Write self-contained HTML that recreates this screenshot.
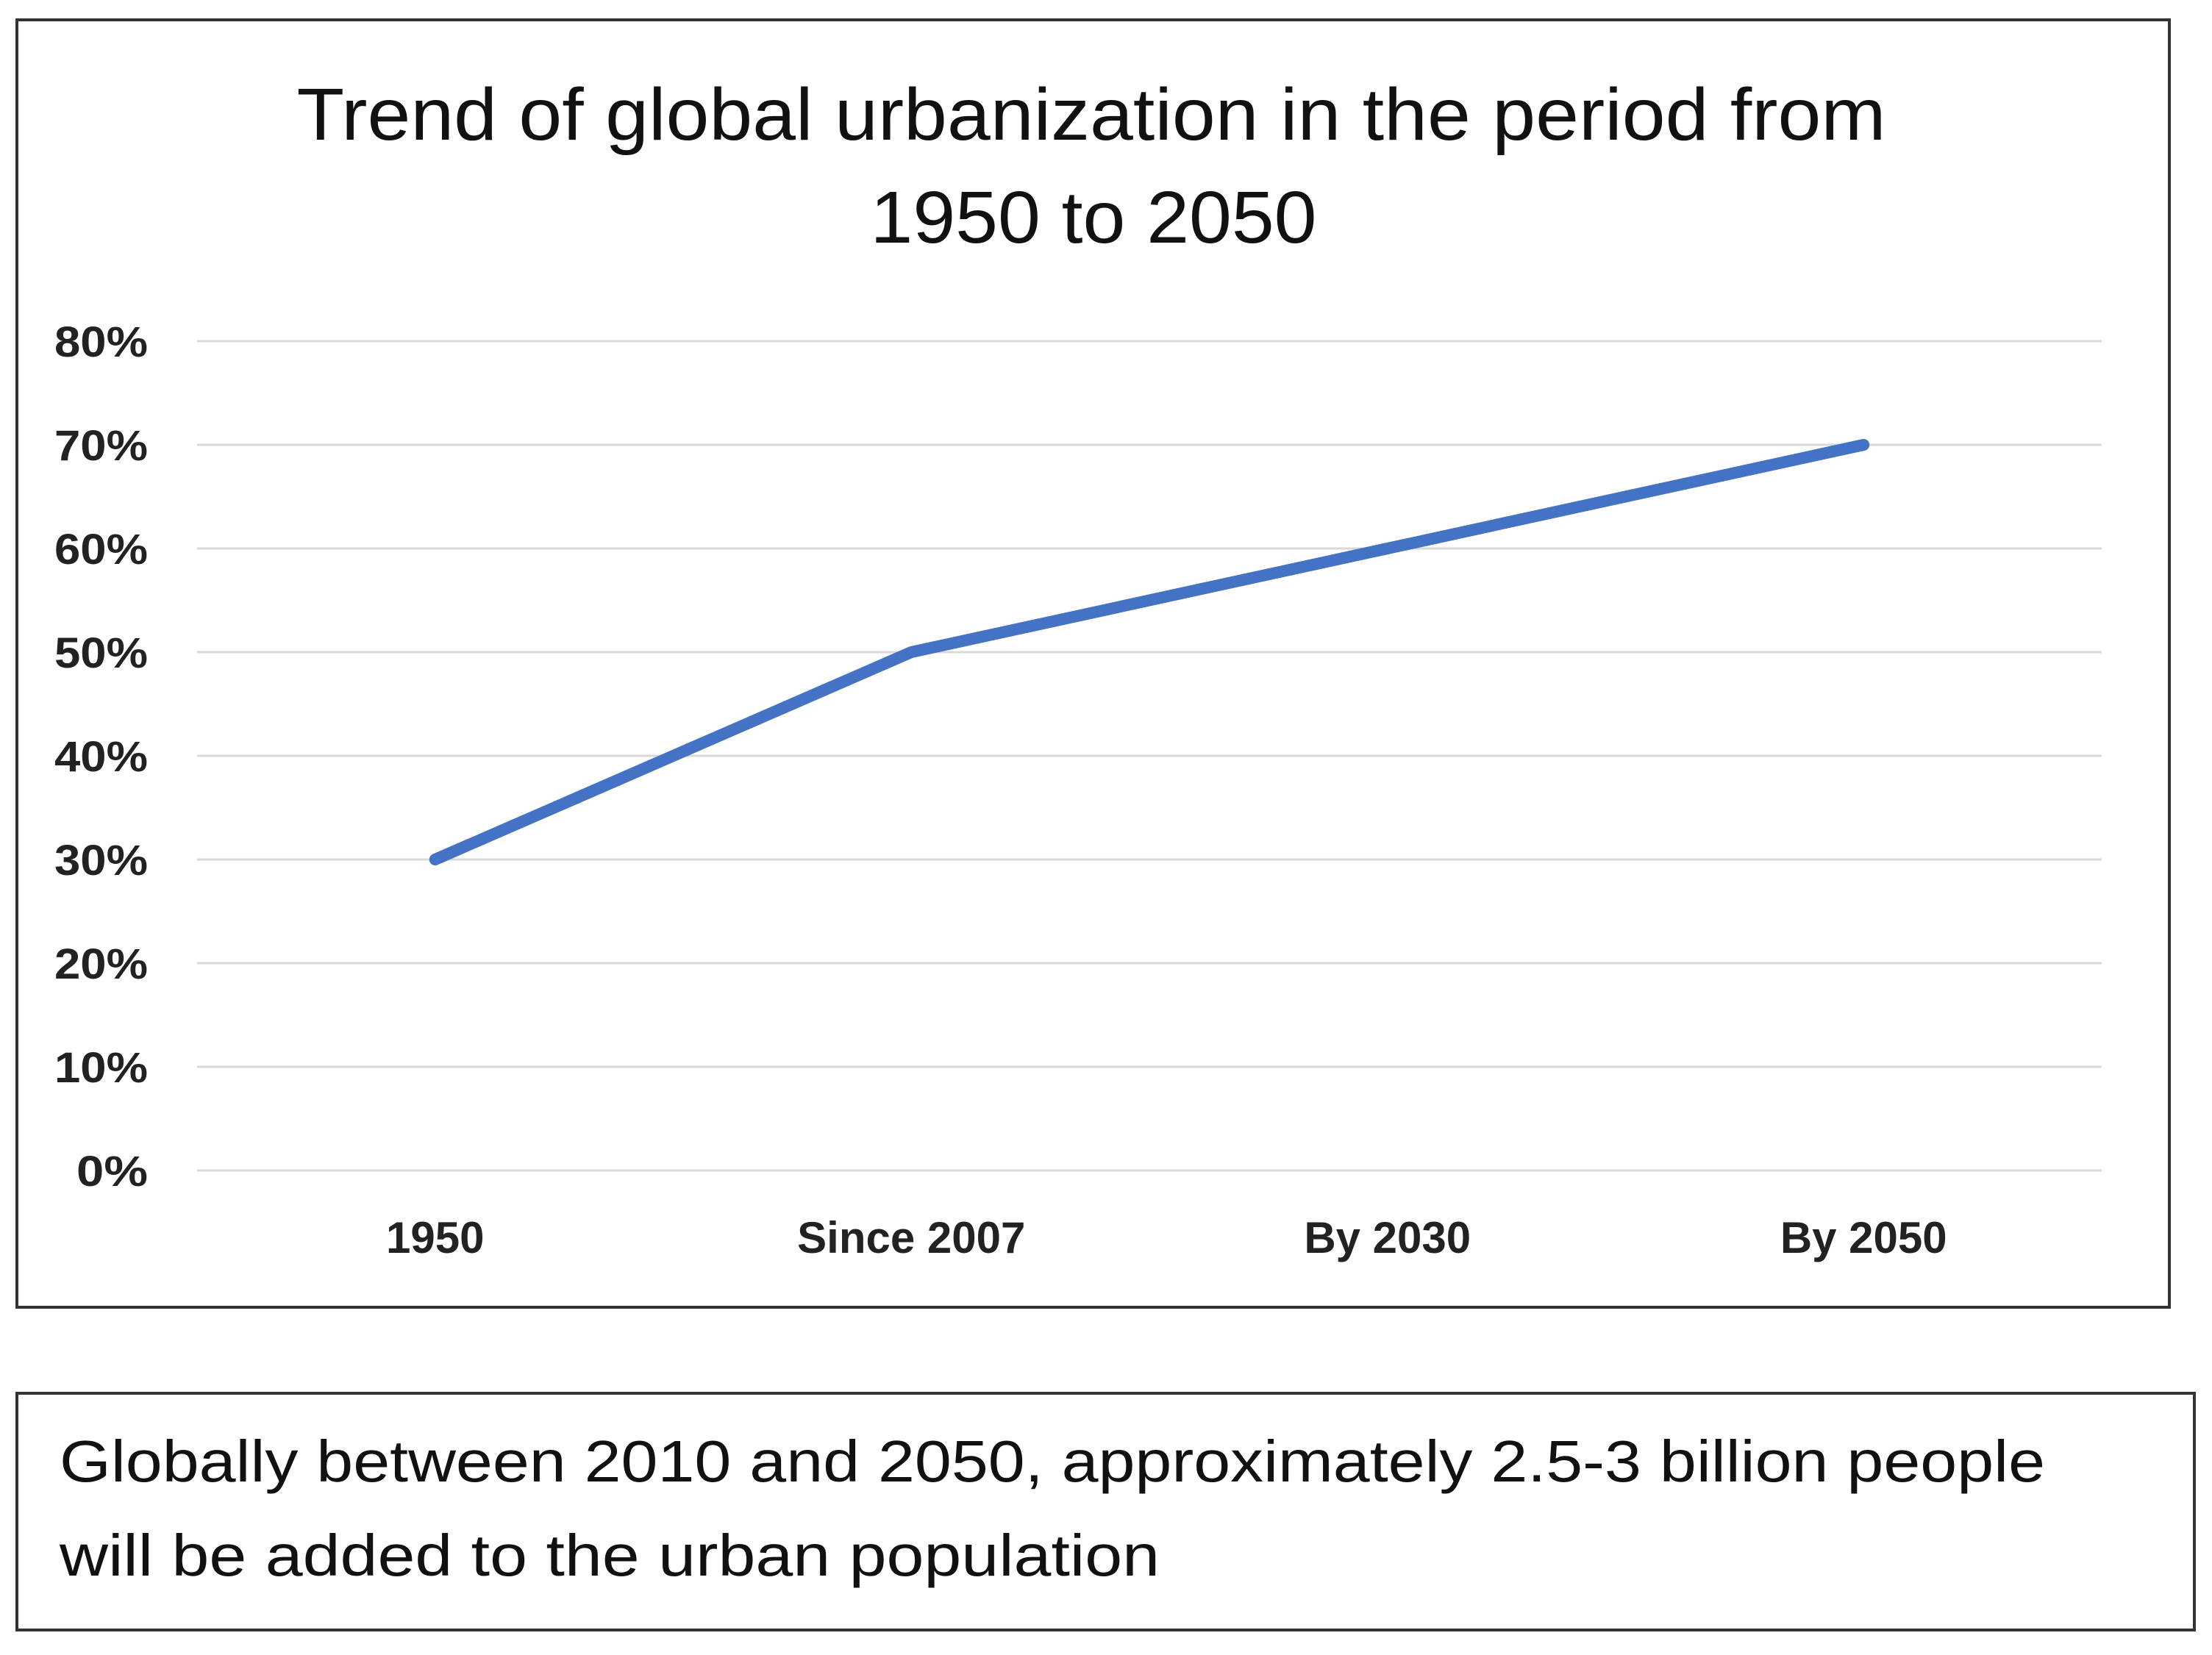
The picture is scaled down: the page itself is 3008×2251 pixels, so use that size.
<!DOCTYPE html>
<html><head><meta charset="utf-8"><style>html,body{margin:0;padding:0;background:#fff}svg{display:block}</style></head>
<body>
<svg id="chart" width="3008" height="2251" viewBox="0 0 3008 2251" xmlns="http://www.w3.org/2000/svg" font-family="'Liberation Sans', sans-serif">
<rect x="23" y="27" width="2927" height="1751" fill="#fff" stroke="#333" stroke-width="4"/>
<text x="1484" y="190" text-anchor="middle" font-size="100" fill="#111" textLength="2161" lengthAdjust="spacingAndGlyphs">Trend of global urbanization in the period from</text>
<text x="1487" y="330" text-anchor="middle" font-size="100" fill="#111" textLength="607" lengthAdjust="spacingAndGlyphs">1950 to 2050</text>
<g id="grid"></g><g id="yt"></g><g id="xt"></g><g id="series"></g>
<rect x="23" y="1895" width="2961" height="322" fill="#fff" stroke="#333" stroke-width="4"/>
<text x="81" y="2015" font-size="80" fill="#111" textLength="2700" lengthAdjust="spacingAndGlyphs">Globally between 2010 and 2050, approximately 2.5-3 billion people</text>
<text x="81" y="2143" font-size="80" fill="#111" textLength="1496" lengthAdjust="spacingAndGlyphs">will be added to the urban population</text>
</svg>
<script>
const categories = ["1950", "Since 2007", "By 2030", "By 2050"];
const values = [30, 50, 60, 70];
const yTicks = [0, 10, 20, 30, 40, 50, 60, 70, 80];
const yTickLabels = ["0%", "10%", "20%", "30%", "40%", "50%", "60%", "70%", "80%"];

const NS = "http://www.w3.org/2000/svg";
const plotL = 268, plotR = 2858, yTop = 464, yBot = 1592, yMax = 80;
const xStep = (plotR - plotL) / categories.length;
function xPos(i) { return plotL + xStep * (i + 0.5); }
function yPos(v) { return yBot - (v / yMax) * (yBot - yTop); }
function mk(tag, attrs, parent) {
  const e = document.createElementNS(NS, tag);
  for (const k in attrs) e.setAttribute(k, attrs[k]);
  parent.appendChild(e);
  return e;
}
const grid = document.getElementById('grid'), yt = document.getElementById('yt'),
      xt = document.getElementById('xt'), series = document.getElementById('series');
yTicks.forEach((v, i) => {
  const l = mk('line', {x1: plotL, x2: plotR, y1: yPos(v), y2: yPos(v), stroke: '#d9d9d9', 'stroke-width': 3}, grid);
  
  
  const len = yTickLabels[i].length === 2 ? 97 : 127;
  const t = mk('text', {x: 201, y: yPos(v) + 21, 'text-anchor': 'end', 'font-size': 58, 'font-weight': 'bold', fill: '#222', textLength: len, lengthAdjust: 'spacingAndGlyphs'}, yt);
  t.textContent = yTickLabels[i];
  
  
});
categories.forEach((c, i) => {
  const t = mk('text', {x: xPos(i), y: 1704, 'text-anchor': 'middle', 'font-size': 60, 'font-weight': 'bold', fill: '#222'}, xt);
  t.textContent = c;
  
  
});
const pts = values.map((v, i) => xPos(i) + ',' + yPos(v)).join(' ');
const pl = mk('polyline', {points: pts, fill: 'none', stroke: '#4472C4', 'stroke-width': 16, 'stroke-linecap': 'round', 'stroke-linejoin': 'round'}, series);


</script>
</body></html>
